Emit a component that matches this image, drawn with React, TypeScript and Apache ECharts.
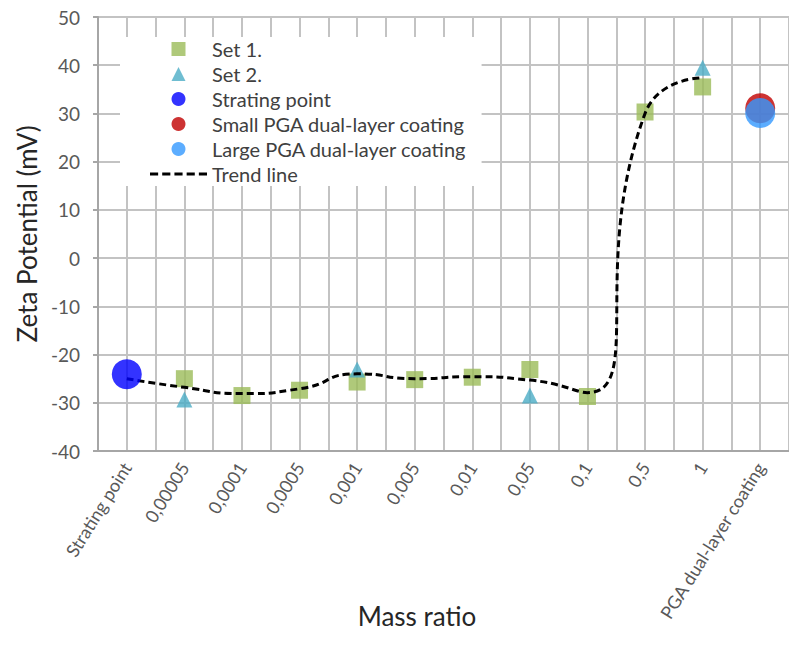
import React, { useEffect, useRef } from 'react';
import * as echarts from 'echarts';

const categories = ['Strating point', '0,00005', '0,0001', '0,0005', '0,001', '0,005', '0,01', '0,05', '0,1', '0,5', '1', 'PGA dual-layer coating'];
const set1 = [null, -25.0, -28.5, -27.4, -25.7, -25.2, -24.7, -23.1, -28.7, 30.3, 35.5, null];
const set2 = [null, -29.3, null, null, -23.1, null, null, -28.5, null, null, 39.5, null];
const startingPoint = [-24.1, null, null, null, null, null, null, null, null, null, null, null];
const smallPGA = [null, null, null, null, null, null, null, null, null, null, null, 31.1];
const largePGA = [null, null, null, null, null, null, null, null, null, null, null, 30.1];
const trendLine = [-25.0, -26.8, -28.1, -27.1, -24.0, -25.0, -24.6, -25.3, -27.9, 30.0, 37.4, null];
const yTicks = { min: -40, max: 50, interval: 10 };

const FONT = 'Lato';

const ICON_SQUARE = 'path://M0,0L10,0L10,10L0,10Z';
const ICON_TRIANGLE = 'path://M5,0L10,10L0,10Z';
const ICON_DASH = 'path://M0,0h8v3h-8zM12,0h8v3h-8zM24,0h8v3h-8zM36,0h8v3h-8zM48,0h8v3h-8z';

function toPairs(arr: (number | null)[]) {
  const out: [number, number][] = [];
  arr.forEach((v, i) => {
    if (v !== null) out.push([i, v]);
  });
  return out;
}

export default function App() {
  const ref = useRef<HTMLDivElement>(null);
  useEffect(() => {
    const chart = echarts.init(ref.current!, null, { renderer: 'svg' });
    const gridColor = '#c3c3c3';
    const axisColor = '#a6a6a6';
    chart.setOption({
      animation: false,
      backgroundColor: '#ffffff',
      textStyle: { fontFamily: FONT },
      grid: { left: 98, top: 17, right: -11, bottom: 203, containLabel: false },
      legend: {
        orient: 'vertical',
        left: 120,
        top: 37,
        backgroundColor: '#ffffff',
        padding: [2, 15, 2, 30],
        itemWidth: 57,
        itemHeight: 14,
        itemGap: 5,
        symbolKeepAspect: true,
        textStyle: { fontSize: 20, fontFamily: FONT, color: '#404040' },
        data: [
          { name: 'Set 1.', icon: ICON_SQUARE },
          { name: 'Set 2.', icon: ICON_TRIANGLE },
          { name: 'Strating point', icon: 'circle' },
          { name: 'Small PGA dual-layer coating', icon: 'circle' },
          { name: 'Large PGA dual-layer coating', icon: 'circle' },
          { name: 'Trend line', icon: ICON_DASH },
        ],
      },
      xAxis: [
        {
          type: 'category',
          data: categories,
          boundaryGap: true,
          axisLine: { onZero: false, lineStyle: { color: axisColor, width: 2 } },
          axisTick: { show: false },
          axisLabel: { rotate: 58, fontSize: 18, color: '#595959', fontFamily: FONT, margin: 13, interval: 0 },
          splitLine: { show: false },
        },
        {
          type: 'value',
          min: 0,
          max: 24,
          interval: 1,
          position: 'bottom',
          axisLine: { show: false },
          axisTick: { show: false },
          axisLabel: { show: false },
          splitLine: { show: true, lineStyle: { color: gridColor, width: 2 } },
        },
      ],
      yAxis: {
        type: 'value',
        min: yTicks.min,
        max: yTicks.max,
        interval: yTicks.interval,
        axisLine: { show: true, lineStyle: { color: axisColor, width: 2 } },
        axisTick: { show: true, length: 5, lineStyle: { color: axisColor, width: 2 } },
        axisLabel: { fontSize: 19, color: '#595959', fontFamily: FONT, margin: 18 },
        splitLine: { show: true, lineStyle: { color: gridColor, width: 2 } },
        name: 'Zeta Potential (mV)',
        nameLocation: 'middle',
        nameGap: 58,
        nameTextStyle: { fontSize: 26, color: '#262626', fontFamily: FONT },
      },
      graphic: [
        {
          type: 'text',
          x: 417,
          y: 616,
          style: { text: 'Mass ratio', fontSize: 26, fontFamily: FONT, fill: '#262626', textAlign: 'center', textVerticalAlign: 'middle' },
        },
      ],
      series: [
        {
          name: 'Set 1.',
          type: 'scatter',
          xAxisIndex: 0,
          symbol: 'rect',
          symbolSize: 17,
          itemStyle: { color: '#9BBB59' },
          data: toPairs(set1),
          z: 2,
        },
        {
          name: 'Set 2.',
          type: 'scatter',
          xAxisIndex: 0,
          symbol: 'triangle',
          symbolSize: 16,
          itemStyle: { color: '#4BACC6' },
          data: toPairs(set2),
          z: 3,
        },
        {
          name: 'Strating point',
          type: 'scatter',
          xAxisIndex: 0,
          symbol: 'circle',
          symbolSize: 30,
          itemStyle: { color: '#0000FF' },
          data: toPairs(startingPoint),
          z: 6,
        },
        {
          name: 'Small PGA dual-layer coating',
          type: 'scatter',
          xAxisIndex: 0,
          symbol: 'circle',
          symbolSize: 30,
          itemStyle: { color: '#C00000' },
          data: toPairs(smallPGA),
          z: 6,
        },
        {
          name: 'Large PGA dual-layer coating',
          type: 'scatter',
          xAxisIndex: 0,
          symbol: 'circle',
          symbolSize: 30,
          itemStyle: { color: '#3399FF' },
          data: toPairs(largePGA),
          z: 7,
        },
        {
          name: 'Trend line',
          type: 'line',
          xAxisIndex: 0,
          smooth: 0.6,
          symbol: 'none',
          showSymbol: false,
          itemStyle: { color: '#000000' },
          lineStyle: { color: '#000000', width: 3, type: [7, 4] },
          data: trendLine,
          z: 4,
        },
      ],
    });
    return () => chart.dispose();
  }, []);
  return <div ref={ref} style={{ position: 'absolute', left: 0, top: 0, width: 789, height: 654 }} />;
}
